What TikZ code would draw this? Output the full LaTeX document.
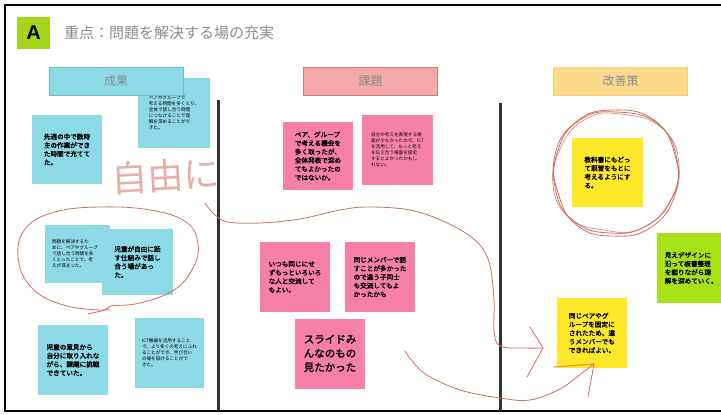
\documentclass[tikz,border=0pt]{standalone}
\usepackage{fontspec}
\newfontfamily\jp[AutoFakeBold=2]{Noto Sans CJK JP}
\newfontfamily\lib{Liberation Sans}
\definecolor{bluenote}{RGB}{141,218,230}
\definecolor{blueedge}{RGB}{112,190,205}
\definecolor{pinknote}{RGB}{246,128,170}
\definecolor{pinkhead}{RGB}{244,168,168}
\definecolor{pinkedge}{RGB}{214,120,125}
\definecolor{yellhead}{RGB}{251,218,140}
\definecolor{yellnote}{RGB}{255,232,40}
\definecolor{greennote}{RGB}{166,226,22}
\definecolor{lime}{RGB}{165,214,30}
\definecolor{handred}{RGB}{212,108,98}
\definecolor{handorange}{RGB}{235,150,70}
\definecolor{headtext}{RGB}{140,140,140}
\definecolor{divider}{RGB}{50,50,50}
\tikzset{
  notebase/.style={minimum width=70pt, minimum height=70pt, inner sep=0pt, align=left,
    font=\jp\bfseries\fontsize{6.6}{8.6}\selectfont, text=black},
  tiny/.style={font=\jp\fontsize{4.6}{6}\selectfont},
  bnote/.style={notebase, fill=bluenote},
  pnote/.style={notebase, fill=pinknote},
  ynote/.style={notebase, fill=yellnote},
  gnote/.style={notebase, fill=greennote},
  headbox/.style={minimum width=134pt, minimum height=28pt, inner sep=0pt,
    font=\jp\fontsize{12}{14}\selectfont, text=headtext},
  hand/.style={draw=handred, line width=0.8pt, line cap=round, line join=round},
}
\begin{document}
\begin{tikzpicture}[x=1pt,y=-1pt]
\useasboundingbox (0,0) rectangle (721,415);
\clip (0,0) rectangle (721,415);
\fill[white] (0,0) rectangle (721,415);
% frame
\draw[line width=2.5pt, black] (5,5) rectangle (735,411);
% title
\node[fill=lime, minimum width=33pt, minimum height=32pt, inner sep=0pt,
  font=\lib\bfseries\fontsize{20}{20}\selectfont] (A) at (33.5,33) {A};
\node[anchor=west, inner sep=0pt, font=\jp\fontsize{15}{17}\selectfont, text=headtext]
  (title) at (64,33) {重点：問題を解決する場の充実};
% dividers
\coordinate (d1t) at (218,100); \coordinate (d1b) at (218,411);
\coordinate (d2t) at (500,103); \coordinate (d2b) at (500,411);
\draw[line width=3pt, divider] (d1t) -- (d1b);
\draw[line width=3pt, divider] (d2t) -- (d2b);
% left column notes
\node[bnote, tiny, minimum width=72pt] (b2) at (174,113)
  {ペアやグループで\\考える時間を多くとり、\\全体で話し合う時間\\につなげることで理\\解を深めることがで\\きた。};
\node[headbox, fill=bluenote, draw=blueedge, line width=0.8pt] (h1) at (116,81) {成果};
\node[bnote, minimum height=69pt] (b1) at (67,149.5) {先週の中で数時\\主の作業ができ\\た時間で充てて\\た。};
\node[bnote, tiny, minimum width=65pt, minimum height=58pt] (b3) at (77.5,254)
  {問題を解決するた\hspace*{14pt}\\めに、ペアやグループ\\で話し合う時間を多\\くとったことで、考\\えが深まった。};
\node[bnote, minimum width=71pt, minimum height=66pt] (b4) at (137.5,262) {児童が自由に話\\す仕組みで話し\\合う場があっ\\た。};
\node[bnote] (b5) at (73,360) {児童の意見から\\自分に取り入れな\\がら、課題に挑戦\\できていた。};
\node[bnote, tiny, minimum width=69pt] (b6) at (169.5,353)
  {ICT機器を活用すること\\で、より多くの考えにふれ\\ることができ、学び合い\\の場を設けることがで\\きた。};
% middle column
\node[headbox, fill=pinkhead, draw=pinkedge, line width=0.8pt] (h2) at (370.5,81) {課題};
\node[pnote, minimum height=68pt] (p1) at (318,156) {ペア、グループ\\で考える機会を\\多く取ったが、\\全体発表で深め\\てもよかったの\\ではないか。};
\node[pnote, tiny, minimum width=71pt] (p2) at (397.5,150)
  {自分の考えを表現する場\\面が少なかったので、ICT\\を活用して、もっと考え\\を伝え合う場面を設定\\するとよかったかもし\\れない。};
\node[pnote] (p3) at (295,277) {いつも同じにせ\\ずもっといろいろ\\な人と交流して\\もよい。};
\node[pnote] (p4) at (380,277) {同じメンバーで話\\すことが多かった\\ので違う子同士\\も交流してもよ\\かったかも};
\node[pnote, font=\jp\bfseries\fontsize{10.5}{14}\selectfont] (p5) at (330,353.5) {スライドみ\\んなのもの\\見たかった};
% right column
\node[headbox, fill=yellhead, draw=yellhead!85!orange, line width=0.6pt] (h3) at (620.5,81) {改善策};
\node[ynote, minimum width=71pt, minimum height=69pt] (y1) at (607.5,172.5) {教科書にもどっ\\て既習をもとに\\考えるようにす\\る。};
\node[ynote] (y2) at (592,333) {同じペアやグ\\ループを固定に\\されたため、違\\うメンバーでも\\できればよい。};
\node[gnote, anchor=west] (g1) at (657,268) {\hspace*{-2pt}見えデザインに\\\hspace*{-2pt}沿って板書整理\\\hspace*{-2pt}を図りながら理\\\hspace*{-2pt}解を深めていく。};
% handwriting
\node[text=handred, text opacity=0.55, font=\jp\fontsize{36}{36}\selectfont, rotate=3] (jiyu) at (166,176) {自由に};
\draw[hand] plot[smooth cycle, tension=0.7] coordinates {
  (100,310) (60,304) (30,286) (18,256) (26,228) (55,212) (100,207) (150,210)
  (186,222) (198,244) (193,268) (174,290) (140,303) (112,306)};
\draw[hand] (88,314) -- (110,309);
\draw[hand] plot[smooth cycle, tension=0.8] coordinates {
  (616,112) (658,124) (677,160) (672,198) (646,226) (610,233) (575,222) (556,192) (558,150) (580,120)};
\draw[hand] plot[smooth cycle, tension=0.8] coordinates {
  (612,110) (654,120) (675,155) (675,195) (650,228) (612,236) (578,226) (559,196) (555,155) (576,122)};
\draw[hand, opacity=0.7] plot[smooth cycle, tension=0.8] coordinates {
  (620,114) (662,128) (679,165) (669,203) (640,229) (604,230) (570,218) (553,185) (562,145) (586,119)};
% curve 1 with arrow head
\coordinate (c1e) at (543,348);
\draw[hand] plot[smooth, tension=0.6] coordinates {
  (205,203) (214,214) (228,222) (260,223) (300,219) (340,210) (368,207) (410,210)
  (445,222) (475,240) (489,262) (494,300) (494,330) (500,346) (525,348) (543,348)};
\draw[hand] (530,327) -- (c1e) -- (527,377);
% curve 2 with arrow head
\coordinate (c2e) at (594,364);
\draw[hand] plot[smooth, tension=0.6] coordinates {
  (405,351) (413,362) (427,375) (460,390) (500,398) (530,400) (560,389) (582,373) (594,364)};
\draw[draw=handorange, line width=1.2pt, line cap=round] (554,367) -- (c2e);
\draw[hand] (c2e) -- (588,397);
\end{tikzpicture}
\end{document}
